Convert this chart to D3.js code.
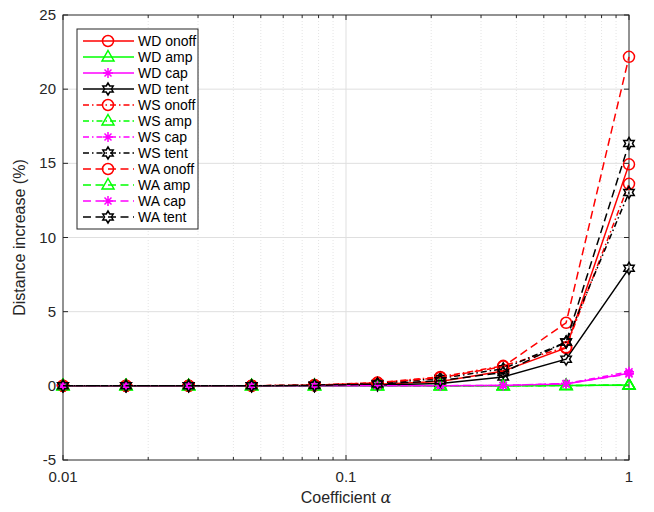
<!DOCTYPE html>
<html>
<head>
<meta charset="utf-8">
<script src="https://cdn.jsdelivr.net/npm/d3@7"></script>
<style>
  body { margin: 0; background: #fff; }
  svg { font-family: "Liberation Sans", Arial, sans-serif; }
</style>
</head>
<body>
<svg id="chart" width="654" height="512"></svg>
<script>
// alpha values (log spaced, 10 points)
const alphas = [0.01, 0.0167, 0.0278, 0.0464, 0.0774, 0.1292, 0.2154, 0.3594, 0.5995, 1];

const wdOnoff = [0, 0, 0, 0, 0.02, 0.1, 0.3, 1.0, 2.55, 14.93];
const wdAmp   = [0, 0, 0, 0, 0, 0, 0, 0, 0.02, 0.05];
const wdCap   = [0, 0, 0, 0, 0, 0, 0, 0.02, 0.12, 0.85];
const wdTent  = [0, 0, 0, 0, 0, 0.05, 0.15, 0.6, 1.8, 7.92];
const wsOnoff = [0, 0, 0, 0, 0.05, 0.22, 0.6, 1.35, 2.6, 13.62];
const wsAmp   = [0, 0, 0, 0, 0, 0, 0, 0, 0.02, 0.05];
const wsCap   = [0, 0, 0, 0, 0, 0, 0, 0.02, 0.15, 0.95];
const wsTent  = [0, 0, 0, 0, 0.05, 0.15, 0.5, 1.15, 2.95, 13.04];
const waOnoff = [0, 0, 0, 0, 0.05, 0.2, 0.55, 1.3, 4.25, 22.18];
const waAmp   = [0, 0, 0, 0, 0, 0, 0, 0, 0.02, 0.05];
const waCap   = [0, 0, 0, 0, 0, 0, 0.01, 0.03, 0.15, 0.8];
const waTent  = [0, 0, 0, 0, 0.03, 0.12, 0.35, 0.9, 2.95, 16.34];

const seriesNames = ["WD onoff", "WD amp", "WD cap", "WD tent",
                     "WS onoff", "WS amp", "WS cap", "WS tent",
                     "WA onoff", "WA amp", "WA cap", "WA tent"];
const seriesValues = [wdOnoff, wdAmp, wdCap, wdTent,
                      wsOnoff, wsAmp, wsCap, wsTent,
                      waOnoff, waAmp, waCap, waTent];

const yTicks = [-5, 0, 5, 10, 15, 20, 25];
const xTicks = [0.01, 0.1, 1];
const xTickLabels = ["0.01", "0.1", "1"];

// styling per series
const colors = ["#ff0000", "#00ff00", "#ff00ff", "#000000"];
const markers = ["circle", "triangle", "asterisk", "hexagram"];
const dashes = [null, "6,3,1.5,3", "8,4.5"];

const svg = d3.select("#chart");
const m = { left: 63, right: 629, top: 15, bottom: 460 };

const x = d3.scaleLog().domain([0.01, 1]).range([m.left, m.right]);
const y = d3.scaleLinear().domain([-5, 25]).range([m.bottom, m.top]);

const axisColor = "#262626";

// minor grid (dotted) at x minor ticks
const minor = [];
[0.01, 0.1].forEach(d => { for (let k = 2; k <= 9; k++) minor.push(d * k); });
svg.append("g").selectAll("line").data(minor).enter().append("line")
  .attr("x1", d => x(d)).attr("x2", d => x(d))
  .attr("y1", m.top).attr("y2", m.bottom)
  .attr("stroke", "#e4e4e4").attr("stroke-width", 1)
  .attr("stroke-dasharray", "1,2");

// major grid
svg.append("g").selectAll("line").data(yTicks.slice(1, -1)).enter().append("line")
  .attr("x1", m.left).attr("x2", m.right)
  .attr("y1", d => y(d)).attr("y2", d => y(d))
  .attr("stroke", "#dfdfdf").attr("stroke-width", 1);
svg.append("g").selectAll("line").data([0.1]).enter().append("line")
  .attr("x1", d => x(d)).attr("x2", d => x(d))
  .attr("y1", m.top).attr("y2", m.bottom)
  .attr("stroke", "#dfdfdf").attr("stroke-width", 1);

// axes with ticks on all four sides
const tickLen = 5;
const axisG = svg.append("g").attr("stroke", axisColor).attr("stroke-width", 1);
axisG.append("rect")
  .attr("x", m.left).attr("y", m.top)
  .attr("width", m.right - m.left).attr("height", m.bottom - m.top)
  .attr("fill", "none");
yTicks.forEach(t => {
  axisG.append("line").attr("x1", m.left).attr("x2", m.left + tickLen)
    .attr("y1", y(t)).attr("y2", y(t));
  axisG.append("line").attr("x1", m.right).attr("x2", m.right - tickLen)
    .attr("y1", y(t)).attr("y2", y(t));
});
xTicks.concat(minor).forEach(t => {
  const len = xTicks.includes(t) ? tickLen : 3;
  axisG.append("line").attr("x1", x(t)).attr("x2", x(t))
    .attr("y1", m.bottom).attr("y2", m.bottom - len);
  axisG.append("line").attr("x1", x(t)).attr("x2", x(t))
    .attr("y1", m.top).attr("y2", m.top + len);
});

// tick labels
svg.append("g").selectAll("text").data(yTicks).enter().append("text")
  .attr("x", m.left - 7).attr("y", d => y(d) + 5)
  .attr("text-anchor", "end").attr("font-size", 15).attr("fill", axisColor)
  .text(d => d);
svg.append("g").selectAll("text").data(xTicks).enter().append("text")
  .attr("x", d => x(d)).attr("y", m.bottom + 22)
  .attr("text-anchor", "middle").attr("font-size", 15).attr("fill", axisColor)
  .text((d, i) => xTickLabels[i]);

// axis labels
const xl = svg.append("text")
  .attr("x", (m.left + m.right) / 2).attr("y", 503)
  .attr("text-anchor", "middle").attr("font-size", 16).attr("fill", axisColor);
xl.append("tspan").text("Coefficient ");
xl.append("tspan").attr("font-family", "DejaVu Serif, serif").attr("font-style", "italic").text("α");

svg.append("text")
  .attr("transform", `translate(25,${(m.top + m.bottom) / 2}) rotate(-90)`)
  .attr("text-anchor", "middle").attr("font-size", 16).attr("fill", axisColor)
  .text("Distance increase (%)");

// marker drawing
function hexPath(r) {
  const r2 = r * 0.58;
  const pts = [];
  for (let i = 0; i < 12; i++) {
    const a = Math.PI / 2 + i * Math.PI / 6;
    const rr = i % 2 === 0 ? r : r2;
    pts.push([rr * Math.cos(a), -rr * Math.sin(a)]);
  }
  return "M" + pts.map(p => p.join(",")).join("L") + "Z";
}
function drawMarker(g, type, color, cx, cy) {
  const s = g.append("g").attr("transform", `translate(${cx},${cy})`)
    .attr("fill", "none").attr("stroke", color).attr("stroke-width", 1.5);
  if (type === "circle") {
    s.append("circle").attr("r", 5.5);
  } else if (type === "triangle") {
    s.append("path").attr("d", "M0,-6.5L6,4L-6,4Z");
  } else if (type === "asterisk") {
    const r = 5;
    s.append("path").attr("d",
      `M${-r},0L${r},0M0,${-r}L0,${r}M${-r * 0.7},${-r * 0.7}L${r * 0.7},${r * 0.7}M${-r * 0.7},${r * 0.7}L${r * 0.7},${-r * 0.7}`);
  } else {
    s.append("path").attr("d", hexPath(6));
  }
}

// series lines and markers
const line = d3.line().x((d, i) => x(alphas[i])).y(d => y(d));
const plot = svg.append("g");
seriesValues.forEach((vals, si) => {
  const c = colors[si % 4];
  const dash = dashes[Math.floor(si / 4)];
  plot.append("path").datum(vals)
    .attr("d", line).attr("fill", "none")
    .attr("stroke", c).attr("stroke-width", 1.5)
    .attr("stroke-dasharray", dash);
  vals.forEach((v, i) => drawMarker(plot, markers[si % 4], c, x(alphas[i]), y(v)));
});

// legend
const lg = svg.append("g");
const lx = 77, ly = 29, rowH = 16;
lg.append("rect").attr("x", lx).attr("y", ly)
  .attr("width", 121).attr("height", rowH * 12 + 8)
  .attr("fill", "#fff").attr("stroke", axisColor).attr("stroke-width", 1);
seriesNames.forEach((name, si) => {
  const c = colors[si % 4];
  const dash = dashes[Math.floor(si / 4)];
  const yy = ly + 12 + si * rowH;
  lg.append("line").attr("x1", lx + 6).attr("x2", lx + 57)
    .attr("y1", yy).attr("y2", yy)
    .attr("stroke", c).attr("stroke-width", 1.5)
    .attr("stroke-dasharray", dash);
  drawMarker(lg, markers[si % 4], c, lx + 31, yy);
  lg.append("text").attr("x", lx + 61).attr("y", yy + 5)
    .attr("font-size", 14).attr("fill", "#000").text(name);
});
</script>
</body>
</html>
